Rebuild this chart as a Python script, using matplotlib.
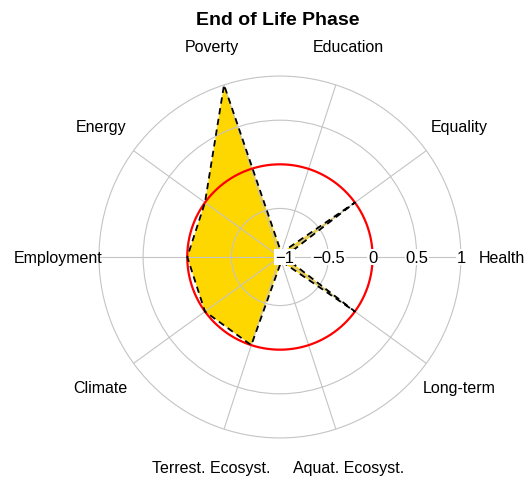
import numpy as np
import matplotlib
matplotlib.use("Agg")
import matplotlib.pyplot as plt

plt.rcParams['font.family'] = ['Liberation Sans', 'DejaVu Sans']

# categories counter-clockwise, starting at 3 o'clock
categories = ["Health", "Equality", "Education", "Poverty", "Energy",
              "Employment", "Climate", "Terrest. Ecosyst.", "Aquat. Ecosyst.", "Long-term"]
values = [-1, 0, -1, 1, 0, 0, 0, 0, -1, 0]
tick_values = [-1, -0.5, 0, 0.5, 1]
tick_labels = ["\u22121", "\u22120.5", "0", "0.5", "1"]
title = "End of Life Phase"

n = len(categories)
angles = np.linspace(0, 2 * np.pi, n, endpoint=False)

fig = plt.figure(figsize=(5.26, 4.81), dpi=100)
ax = fig.add_axes([0.1882, 0.0873, 0.688, 0.7526], projection='polar')
ax.set_rlim(-1.05, 1)
ax.set_axisbelow(False)

# polygon
th = np.append(angles, angles[0])
vv = np.append(values, values[0])
ax.fill(th, vv, color='#FFD700', zorder=1, lw=0)
ax.plot(th, vv, color='black', lw=1.3, ls=(0, (3.5, 2.5)), zorder=4)

# grid
ax.set_thetagrids(np.degrees(angles), labels=[""] * n)
ax.set_rgrids([-0.5, 0.5], labels=["", ""])
ax.grid(True, color='#C4C4C4', lw=0.8)
ax.spines['polar'].set_color('#C4C4C4')
ax.spines['polar'].set_linewidth(0.8)
ax.tick_params(length=0)

# reference circle at zero
circ = np.linspace(0, 2 * np.pi, 400)
ax.plot(circ, np.zeros_like(circ), color='red', lw=1.6, zorder=3)

# radial tick labels along the Health spoke
for tv, tl in zip(tick_values, tick_labels):
    ax.text(0, tv, tl, ha='center', va='center', fontsize=12, zorder=5,
            bbox=dict(facecolor='white', edgecolor='none', pad=0.5))

# category labels
for a, c in zip(angles, categories):
    ax.text(a, 1.46, c, ha='center', va='center', fontsize=11.5, clip_on=False)

fig.text(0.528, 0.958, title, ha='center', va='center', fontsize=14, fontweight='bold')

fig.savefig("out.png", dpi=100)
